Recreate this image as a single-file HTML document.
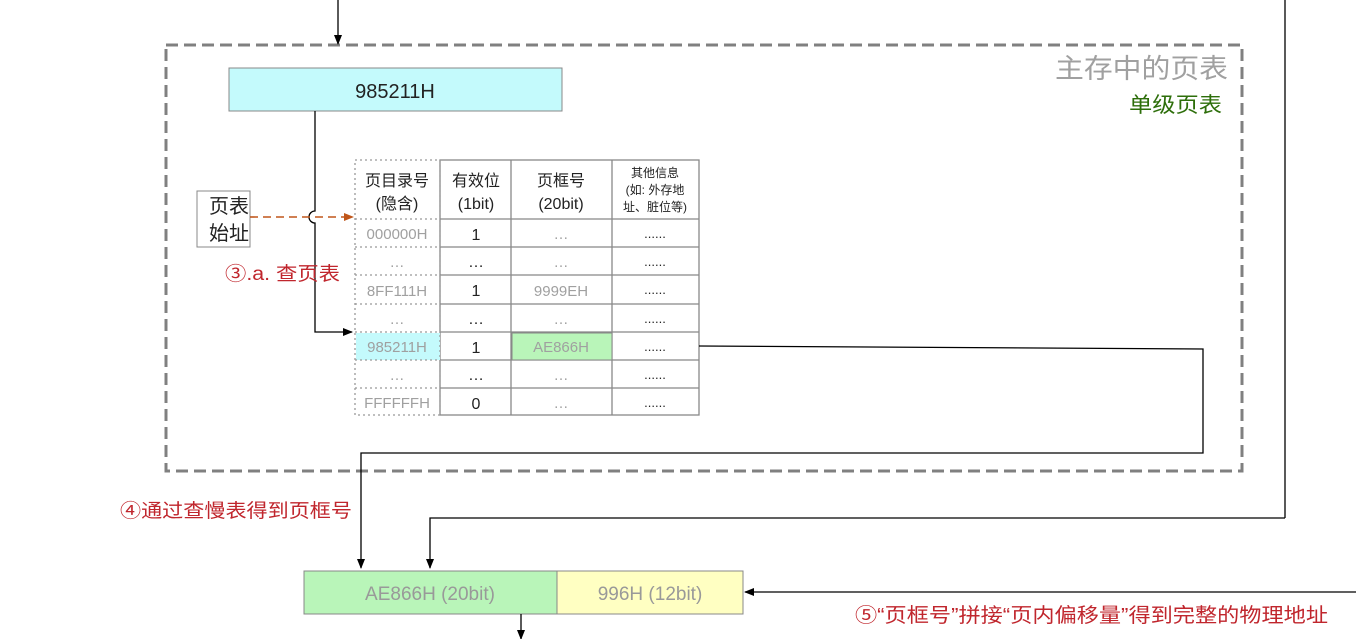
<!DOCTYPE html>
<html><head><meta charset="utf-8"><style>
html,body{margin:0;padding:0;background:#fff;}
svg{display:block;font-family:"Liberation Sans","Noto Sans CJK SC",sans-serif;}
</style></head><body>
<svg width="1356" height="639" viewBox="0 0 1356 639" xmlns="http://www.w3.org/2000/svg">
<defs>
<marker id="a" markerWidth="10" markerHeight="8" refX="9" refY="4" orient="auto" markerUnits="userSpaceOnUse"><path d="M0,0 L10,4 L0,8 z" fill="#000"/></marker>
<marker id="o" markerWidth="10" markerHeight="8" refX="9" refY="4" orient="auto" markerUnits="userSpaceOnUse"><path d="M0,0 L10,4 L0,8 z" fill="#c0561a"/></marker>
</defs>
<rect x="166" y="45" width="1076" height="426" fill="none" stroke="#808080" stroke-width="3" stroke-dasharray="12,6"/>
<text x="1055" y="78" font-size="27" fill="#a0a0a0" textLength="173" lengthAdjust="spacingAndGlyphs">主存中的页表</text>
<text x="1129" y="112" font-size="21" fill="#2d6e0a" textLength="93" lengthAdjust="spacingAndGlyphs">单级页表</text>
<line x1="338" y1="0" x2="338" y2="44" stroke="#000" stroke-width="1.3" marker-end="url(#a)"/>
<line x1="1285" y1="0" x2="1285" y2="518" stroke="#000" stroke-width="1.3"/>
<polyline points="1285,518 430,518 430,568" fill="none" stroke="#000" stroke-width="1.3" marker-end="url(#a)"/>
<rect x="229" y="68" width="333" height="43" fill="#c4fafc" stroke="#888" stroke-width="1"/>
<text x="395" y="98" font-size="20" text-anchor="middle" fill="#222">985211H</text>
<path d="M315,111 L315,211 A6,6 0 0 0 315,223 L315,332 L352,332" fill="none" stroke="#000" stroke-width="1.3" marker-end="url(#a)"/>
<rect x="197" y="191" width="53" height="56" fill="#fff" stroke="#888"/>
<text x="229" y="213" font-size="20" text-anchor="middle" fill="#222">页表</text>
<text x="229" y="240" font-size="20" text-anchor="middle" fill="#222">始址</text>
<line x1="250" y1="217" x2="353" y2="217" stroke="#c0561a" stroke-width="1.6" stroke-dasharray="8,5" marker-end="url(#o)"/>
<text x="225" y="280" font-size="19" fill="#c0262d" textLength="115" lengthAdjust="spacingAndGlyphs">③.a. 查页表</text>
<g stroke="#888" stroke-width="1.3" fill="none">
<rect x="440" y="160" width="259" height="255"/>
<line x1="511" y1="160" x2="511" y2="415"/><line x1="612" y1="160" x2="612" y2="415"/>
<line x1="440" y1="219" x2="699" y2="219"/><line x1="440" y1="247" x2="699" y2="247"/>
<line x1="440" y1="275" x2="699" y2="275"/><line x1="440" y1="304" x2="699" y2="304"/>
<line x1="440" y1="332" x2="699" y2="332"/><line x1="440" y1="360" x2="699" y2="360"/>
<line x1="440" y1="388" x2="699" y2="388"/>
</g>
<rect x="356" y="333" width="84" height="27" fill="#c4fafc"/>
<rect x="512" y="333" width="100" height="27" fill="#b9f5b9" stroke="#888"/>
<g stroke="#999" stroke-width="1.3" stroke-dasharray="2,3" fill="none">
<rect x="355" y="160" width="85" height="255"/>
<line x1="355" y1="219" x2="440" y2="219"/><line x1="355" y1="247" x2="440" y2="247"/>
<line x1="355" y1="275" x2="440" y2="275"/><line x1="355" y1="304" x2="440" y2="304"/>
<line x1="355" y1="332" x2="440" y2="332"/><line x1="355" y1="360" x2="440" y2="360"/>
<line x1="355" y1="388" x2="440" y2="388"/>
</g>
<g font-size="16" text-anchor="middle" fill="#222">
<text x="397" y="186">页目录号</text><text x="397" y="209">(隐含)</text>
<text x="476" y="186">有效位</text><text x="476" y="209">(1bit)</text>
<text x="561" y="186">页框号</text><text x="561" y="209">(20bit)</text>
<text x="655" y="177" font-size="12">其他信息</text><text x="655" y="194" font-size="12">(如: 外存地</text><text x="655" y="211" font-size="12">址、脏位等)</text>
</g>
<g font-size="15" text-anchor="middle" fill="#a0a0a0">
<text x="397" y="239">000000H</text><text x="397" y="267">…</text><text x="397" y="296">8FF111H</text>
<text x="397" y="324">…</text><text x="397" y="352">985211H</text><text x="397" y="380">…</text><text x="397" y="408">FFFFFFH</text>
<text x="561" y="239">…</text><text x="561" y="267">…</text><text x="561" y="296">9999EH</text>
<text x="561" y="324">…</text><text x="561" y="352">AE866H</text><text x="561" y="380">…</text><text x="561" y="408">…</text>
</g>
<g font-size="16" text-anchor="middle" fill="#222">
<text x="476" y="240">1</text><text x="476" y="267">…</text><text x="476" y="296">1</text>
<text x="476" y="324">…</text><text x="476" y="353">1</text><text x="476" y="380">…</text><text x="476" y="409">0</text>
</g>
<g font-size="13" text-anchor="middle" fill="#222">
<text x="655" y="238">......</text><text x="655" y="266">......</text><text x="655" y="294">......</text>
<text x="655" y="323">......</text><text x="655" y="351">......</text><text x="655" y="379">......</text><text x="655" y="407">......</text>
</g>
<polyline points="699,346 1203,349 1203,453 361,453 361,568" fill="none" stroke="#000" stroke-width="1.3" marker-end="url(#a)"/>
<text x="120" y="517" font-size="19" fill="#c0262d" textLength="232" lengthAdjust="spacingAndGlyphs">④通过查慢表得到页框号</text>
<rect x="304" y="571" width="253" height="43" fill="#b9f5b9" stroke="#888"/>
<rect x="557" y="571" width="186" height="43" fill="#ffffc2" stroke="#888"/>
<text x="430" y="600" font-size="19" text-anchor="middle" fill="#999">AE866H (20bit)</text>
<text x="650" y="600" font-size="19" text-anchor="middle" fill="#999">996H (12bit)</text>
<line x1="1356" y1="592" x2="745" y2="592" stroke="#000" stroke-width="1.3" marker-end="url(#a)"/>
<text x="855" y="622" font-size="20" fill="#c0262d" textLength="473" lengthAdjust="spacingAndGlyphs">⑤“页框号”拼接“页内偏移量”得到完整的物理地址</text>
<line x1="521" y1="614" x2="521" y2="639" stroke="#000" stroke-width="1.3" marker-end="url(#a)"/>
</svg>
</body></html>
